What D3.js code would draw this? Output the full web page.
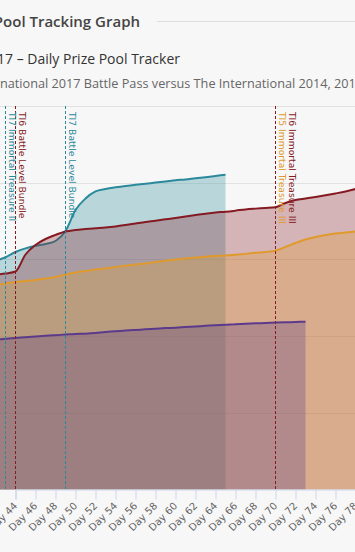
<!DOCTYPE html>
<html><head><meta charset="utf-8">
<script src="https://cdn.jsdelivr.net/npm/d3@7/dist/d3.min.js"></script>
<style>
html,body{margin:0;padding:0;background:#f7f7f7;overflow:hidden}
svg{display:block;font-family:"Open Sans",sans-serif}
</style></head><body>
<svg id="c" width="355" height="552"></svg>
<script>
// ---- data (prize pool, millions USD, by battle-pass day) ----
const days = [42,43,44,45,46,47,48,49,50,51,52,53,54,55,56,57,58,59,60,61,62,63,64,65,66,67,68,69,70,71,72,73,74,75,76,77,78];
const ti7 = [14.90,15.14,15.48,15.72,15.89,16.00,16.20,16.85,18.22,18.97,19.43,19.59,19.70,19.79,19.86,19.93,20.01,20.08,20.16,20.21,20.29,20.36,20.44,20.52];
const ti6 = [14.00,14.08,14.21,15.32,15.94,16.33,16.60,16.82,16.92,16.98,17.03,17.08,17.15,17.24,17.34,17.44,17.52,17.61,17.70,17.80,17.89,17.98,18.06,18.11,18.18,18.26,18.31,18.35,18.40,18.68,18.87,18.97,19.07,19.18,19.30,19.43,19.59];
const ti5 = [13.33,13.43,13.53,13.59,13.66,13.75,13.85,14.02,14.15,14.24,14.34,14.42,14.50,14.59,14.67,14.74,14.83,14.91,14.99,15.06,15.12,15.18,15.22,15.25,15.30,15.36,15.43,15.49,15.57,15.81,16.07,16.30,16.46,16.59,16.69,16.75,16.82];
const ti4 = [9.76,9.82,9.88,9.92,9.97,10.02,10.06,10.10,10.14,10.16,10.20,10.27,10.31,10.36,10.40,10.44,10.48,10.52,10.55,10.59,10.63,10.67,10.71,10.74,10.78,10.80,10.83,10.85,10.88,10.90,10.92,10.94];
const seriesNames = ["TI7","TI6","TI5","TI4"];
const seriesColors = ["#2a8a9b","#851a22","#e09a2c","#5b3a8c"];
const tickDays = [42,44,46,48,50,52,54,56,58,60,62,64,66,68,70,72,74,76,78];
const yTicks = [0,5,10,15,20,25];
const noteDays = [43,44,49,70,70];
const noteSeries = ["TI7","TI6","TI7","TI5","TI6"];
const noteLabels = ["TI7 Immortal Treasure II","TI6 Battle Level Bundle","TI7 Battle Level Bundle","TI5 Immortal Treasure III","TI6 Immortal Treasure III"];
const heading = "Prize Pool Tracking Graph";
const title = "The International 2017 \u2013 Daily Prize Pool Tracker";
const subtitle = "The International 2017 Battle Pass versus The International 2014, 2015 and 2016";

const svg = d3.select("#c");
const x = d3.scaleLinear().domain([44,78]).range([15.5,355.5]);
const y = d3.scaleLinear().domain([0,25]).range([489.5,106]);
const color = d3.scaleOrdinal().domain(seriesNames).range(seriesColors);
const chartFont = "'DejaVu Sans', Verdana, sans-serif";

// header
svg.append("text").attr("x",140).attr("y",26.5).attr("text-anchor","end")
  .attr("font-size",15).attr("font-weight",600).attr("fill","#444").text(heading);
svg.append("line").attr("x1",157).attr("x2",355).attr("y1",21.5).attr("y2",21.5)
  .attr("stroke","#dedede");
svg.append("text").attr("x",180).attr("y",64).attr("text-anchor","end")
  .attr("font-size",14).attr("fill","#333").text(title);
const sub = svg.append("text").attr("y",88).attr("font-size",12.7).attr("fill","#666").text(subtitle);
sub.attr("x", -sub.node().getSubStringLength(0,9));

// grid
svg.append("g").selectAll("line").data(yTicks.filter(d=>d>0)).join("line")
  .attr("x1",0).attr("x2",355)
  .attr("y1",d=>Math.round(y(d))+0.5).attr("y2",d=>Math.round(y(d))+0.5)
  .attr("stroke","#e2e2e2");

// series
const seriesData = [ti7,ti6,ti5,ti4].map((vals,i)=>({name:seriesNames[i],pts:vals.map((v,j)=>[days[j],v])}));
const area = d3.area().x(d=>x(d[0])).y0(y(0)).y1(d=>y(d[1])).curve(d3.curveMonotoneX);
const line = d3.line().x(d=>x(d[0])).y(d=>y(d[1])).curve(d3.curveMonotoneX);
const sg = svg.append("g").selectAll("g").data(seriesData).join("g");
sg.append("path").attr("d",d=>area(d.pts)).attr("fill",d=>color(d.name)).attr("fill-opacity",0.3);
sg.append("path").attr("d",d=>line(d.pts)).attr("fill","none").attr("stroke",d=>color(d.name)).attr("stroke-width",2);

// x axis
const xAxis = d3.axisBottom(x).tickValues(tickDays).tickSize(10).tickFormat(d=>"Day "+d);
const ax = svg.append("g").attr("transform","translate(0,489.5)").call(xAxis);
ax.select(".domain").attr("stroke","#ccd6eb");
ax.selectAll(".tick line").attr("stroke","#ccd6eb");
ax.selectAll(".tick text").attr("fill","#666").attr("font-size",10).attr("font-family",chartFont)
  .attr("text-anchor","end").attr("dy",0).attr("y",0)
  .attr("transform","translate(2,17) rotate(-45)");

// plot lines with labels
const notes = noteDays.map((d,i)=>({day:d,s:noteSeries[i],label:noteLabels[i]}));
const stackIdx = notes.map((n,i)=>notes.slice(0,i).filter(m=>m.day===n.day).length);
const ng = svg.append("g");
notes.forEach((n,i)=>{
  const px = Math.floor(x(n.day))+0.5;
  ng.append("line").attr("x1",px).attr("x2",px).attr("y1",106).attr("y2",489)
    .attr("stroke",color(n.s)).attr("stroke-dasharray","3,2");
});
notes.forEach((n,i)=>{
  const px = Math.floor(x(n.day))+0.5;
  ng.append("text").attr("transform",`translate(${px+3.5+stackIdx[i]*10},112) rotate(90)`)
    .attr("font-size",9.2).attr("font-family",chartFont).attr("fill",color(n.s)).text(n.label);
});
</script></body></html>
